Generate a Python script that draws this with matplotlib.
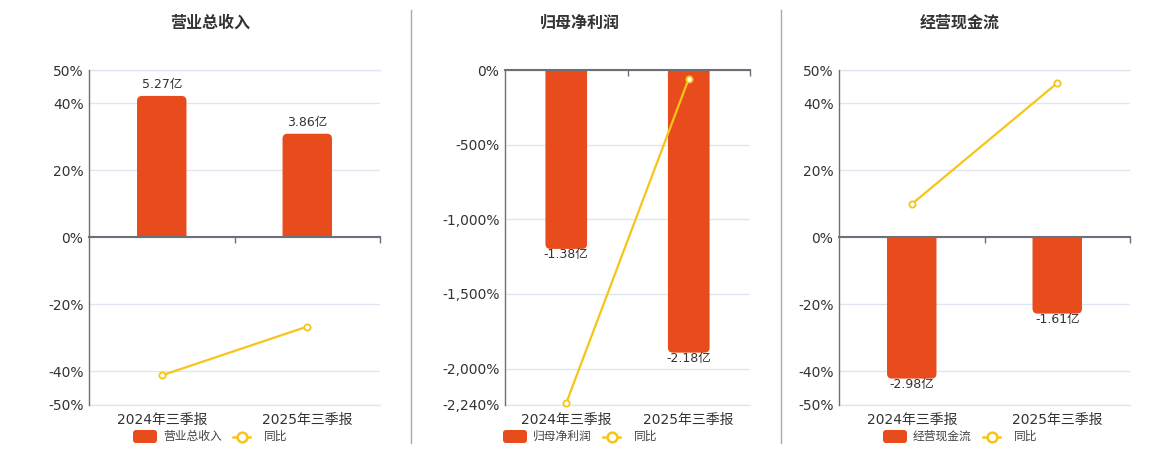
import matplotlib
matplotlib.use('Agg')
import matplotlib.pyplot as plt
from matplotlib.patches import FancyBboxPatch, PathPatch
from matplotlib.path import Path
from matplotlib.lines import Line2D
from matplotlib.transforms import Affine2D
from matplotlib.ticker import FixedLocator, FuncFormatter

plt.rcParams['font.family'] = ['DejaVu Sans', 'Noto Sans CJK SC']

# ---------------- data ----------------
categories = ['2024年三季报', '2025年三季报']
titles = ['营业总收入', '归母净利润', '经营现金流']
series_names = ['营业总收入', '归母净利润', '经营现金流']
yoy_name = '同比'

revenue = [5.27, 3.86]          # 亿
revenue_yoy = [-41.3, -26.7]    # %
profit = [-1.38, -2.18]
profit_yoy = [-2230.0, -58.0]
cashflow = [-2.98, -1.61]
cashflow_yoy = [9.9, 46.1]

ticks_rev = [-50, -40, -20, 0, 20, 40, 50]
ticks_profit = [-2240, -2000, -1500, -1000, -500, 0]
ticks_cash = [-50, -40, -20, 0, 20, 40, 50]

bar_values = [revenue, profit, cashflow]
yoy_values = [revenue_yoy, profit_yoy, cashflow_yoy]
tick_sets = [ticks_rev, ticks_profit, ticks_cash]

# ---------------- style ----------------
W, H = 1160, 450
BAR_C = '#E84C1D'
LINE_C = '#F5C518'
AXIS_C = '#6E7079'
GRID_C = '#E0E6F1'
TXT_C = '#333333'
CJK = ['Noto Sans CJK SC', 'DejaVu Sans']

fig = plt.figure(figsize=(W / 100, H / 100), dpi=100)
fig.patch.set_facecolor('white')

# pixel transform: (x px from left, y px from top)
px = Affine2D().scale(1 / W, -1 / H).translate(0, 1) + fig.transFigure

panels = [  # left px, right px, title/legend centre px
    (89, 380, 210),
    (505, 750, 580),
    (839, 1130, 960),
]
top_px, bot_px = 70, 404.5


def pct_fmt(v, pos=None):
    return f'{int(round(v)):,}%'


def rounded_bar_path(x0, w, v, rx, ry):
    """Bar from 0 to v, rounded at the outer end."""
    s = 1 if v >= 0 else -1
    ry = min(ry, abs(v))
    verts = [
        (x0, 0),
        (x0, v - s * ry),
        (x0, v), (x0 + rx, v),
        (x0 + w - rx, v),
        (x0 + w, v), (x0 + w, v - s * ry),
        (x0 + w, 0),
        (x0, 0),
    ]
    codes = [Path.MOVETO, Path.LINETO, Path.CURVE3, Path.CURVE3, Path.LINETO,
             Path.CURVE3, Path.CURVE3, Path.LINETO, Path.CLOSEPOLY]
    return Path(verts, codes)


for i in range(3):
    lpx, rpx, cpx = panels[i]
    rect = [lpx / W, 1 - bot_px / H, (rpx - lpx) / W, (bot_px - top_px) / H]
    ticks = tick_sets[i]
    lo, hi = min(ticks), max(ticks)
    bars = bar_values[i]
    yoy = yoy_values[i]

    # bar scale: largest bar fills ~84.5% of its half of the axis
    k = max(abs(b) for b in bars) / (0.845 * max(abs(lo), abs(hi)))
    blo, bhi = lo * k, hi * k

    ax_bar = fig.add_axes(rect, label=f'bar{i}')
    ax_line = fig.add_axes(rect, label=f'line{i}')
    ax_line.patch.set_visible(False)

    x = list(range(len(categories)))
    for a in (ax_bar, ax_line):
        a.set_xlim(-0.5, len(categories) - 0.5)
        for s in ('top', 'right'):
            a.spines[s].set_visible(False)
    ax_bar.set_ylim(blo, bhi)
    ax_line.set_ylim(lo, hi)

    # grid on bar axes (under bars)
    ax_bar.set_yticks([t * k for t in ticks])
    ax_bar.yaxis.set_tick_params(length=0, labelleft=False)
    ax_bar.grid(axis='y', color=GRID_C, lw=1)
    ax_bar.set_axisbelow(True)
    for edge in (blo, bhi):
        ax_bar.axhline(edge, color=GRID_C, lw=1, clip_on=False, zorder=0.6)
    ax_bar.spines['left'].set_color(AXIS_C)
    ax_bar.spines['left'].set_linewidth(1)
    ax_bar.spines['left'].set_zorder(3)
    ax_bar.spines['bottom'].set_visible(False)
    ax_bar.set_xticks(x)
    ax_bar.set_xticklabels(categories, fontsize=10, color=TXT_C)
    ax_bar.tick_params(axis='x', length=0, pad=6)

    # percent labels on the left from line axes
    ax_line.spines['left'].set_visible(False)
    ax_line.set_yticks(ticks)
    ax_line.yaxis.set_major_formatter(FuncFormatter(pct_fmt))
    ax_line.tick_params(axis='y', length=0, pad=4, labelsize=10, labelcolor=TXT_C)
    # zero axis line with ticks
    ax_line.spines['bottom'].set_position(('data', 0))
    ax_line.spines['bottom'].set_color(AXIS_C)
    ax_line.spines['bottom'].set_linewidth(1.5)
    ax_line.set_xticks([])
    ax_line.xaxis.set_minor_locator(FixedLocator([0.5, len(categories) - 0.5]))
    ax_line.tick_params(axis='x', which='minor', direction='out', length=4,
                        width=1, color=AXIS_C, labelbottom=False)

    # bars with rounded outer end
    bw = 0.34
    rects = ax_bar.bar(x, bars, width=bw, color=BAR_C, zorder=2)
    w_px = rpx - lpx
    h_px = bot_px - top_px
    xper = len(categories) / w_px
    yper = (bhi - blo) / h_px
    rx, ry = 5 * xper, 5 * yper
    for rc, v in zip(rects, bars):
        rc.set_visible(False)
        x0, wdt = rc.get_x(), rc.get_width()
        ax_bar.add_patch(PathPatch(rounded_bar_path(x0, wdt, v, rx, ry),
                                   fc=BAR_C, ec='none', zorder=2))
        if v >= 0:
            ax_bar.annotate(f'{v:.2f}亿', xy=(x0 + wdt / 2, v), xytext=(0, 3.5),
                            textcoords='offset points', ha='center', va='bottom',
                            fontsize=9, color=TXT_C, zorder=5)
        else:
            ax_bar.annotate(f'{v:.2f}亿', xy=(x0 + wdt / 2, v), xytext=(0, 0.5),
                            textcoords='offset points', ha='center', va='top',
                            fontsize=9, color=TXT_C, zorder=5)

    ax_line.plot(x, yoy, color=LINE_C, lw=1.6, marker='o', ms=4.5,
                 mfc='white', mec=LINE_C, mew=1.3, zorder=4, clip_on=False)

    # title
    fig.text(cpx / W, 1 - 23 / H, titles[i], ha='center', va='center',
             fontsize=11.5, fontweight='bold', color=TXT_C, family=CJK)

    # legend
    ly = 436.5
    fig.add_artist(FancyBboxPatch((cpx - 77, ly - 6.5), 24, 13,
                                  boxstyle='round,pad=0,rounding_size=3',
                                  fc=BAR_C, ec='none', transform=px))
    fig.text((cpx - 47) / W, 1 - ly / H, series_names[i], ha='left', va='center',
             fontsize=8.5, color='#444444', family=CJK)
    fig.add_artist(Line2D([cpx + 23, cpx + 40], [ly, ly], color=LINE_C, lw=1.8,
                          transform=px))
    fig.add_artist(Line2D([cpx + 31.5], [ly], marker='o', ms=7, mfc='white',
                          mec=LINE_C, mew=1.8, transform=px))
    fig.text((cpx + 54) / W, 1 - ly / H, yoy_name, ha='left', va='center',
             fontsize=8.5, color='#444444', family=CJK)

# separators
for sx in (410.5, 780.5):
    fig.add_artist(Line2D([sx, sx], [10, 443], color='#AAAAAA', lw=1, transform=px))

fig.savefig('out.png', dpi=100, facecolor='white')
